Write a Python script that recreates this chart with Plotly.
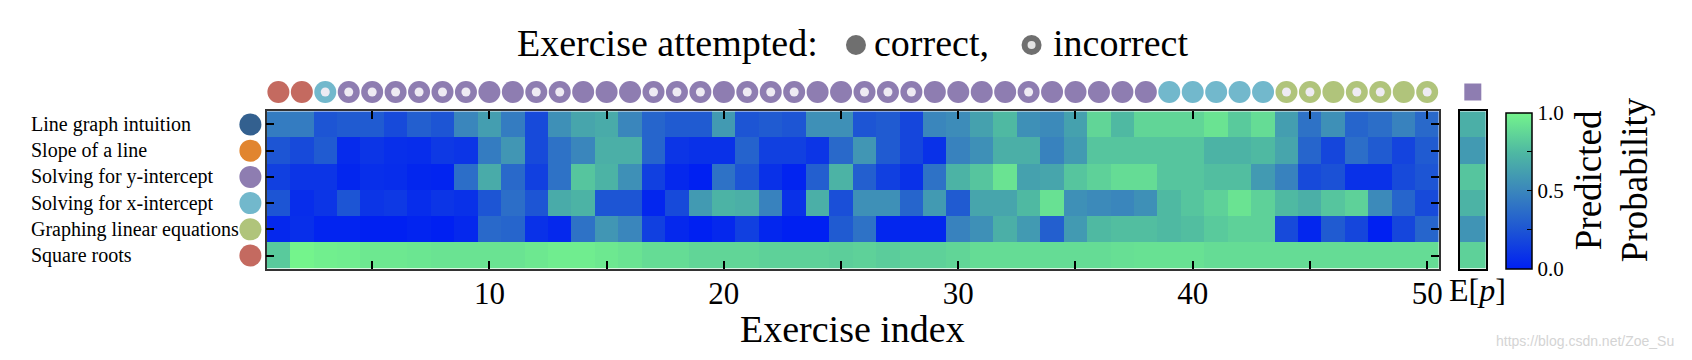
import plotly.graph_objects as go

W, H = 1692, 360
SERIF = "Liberation Serif, Times New Roman, serif"

skills = ["Line graph intuition", "Slope of a line", "Solving for y-intercept",
          "Solving for x-intercept", "Graphing linear equations", "Square roots"]
skill_colors = ["#33608f", "#e1852f", "#8e7db1", "#72b8cc", "#b0c47b", "#c46a60"]

exercise_index = list(range(1, 51))

p_line_graph = [0.45, 0.45, 0.25, 0.28, 0.28, 0.20, 0.30, 0.25, 0.50, 0.62,
                0.45, 0.20, 0.55, 0.65, 0.68, 0.50, 0.33, 0.28, 0.28, 0.60,
                0.25, 0.28, 0.25, 0.55, 0.55, 0.25, 0.28, 0.18, 0.50, 0.53,
                0.63, 0.75, 0.55, 0.52, 0.63, 0.87, 0.75, 0.87, 0.87, 0.87,
                0.93, 0.82, 0.90, 0.62, 0.40, 0.55, 0.33, 0.38, 0.48, 0.35]
p_slope = [0.25, 0.20, 0.28, 0.05, 0.10, 0.07, 0.06, 0.12, 0.10, 0.45,
           0.58, 0.20, 0.40, 0.50, 0.70, 0.70, 0.33, 0.10, 0.08, 0.08,
           0.32, 0.15, 0.15, 0.10, 0.35, 0.58, 0.28, 0.18, 0.08, 0.48,
           0.55, 0.70, 0.70, 0.48, 0.60, 0.80, 0.80, 0.80, 0.80, 0.80,
           0.72, 0.72, 0.75, 0.65, 0.33, 0.18, 0.38, 0.28, 0.17, 0.28]
p_y_intercept = [0.15, 0.10, 0.10, 0.03, 0.07, 0.06, 0.03, 0.02, 0.38, 0.68,
                 0.35, 0.15, 0.40, 0.80, 0.72, 0.55, 0.15, 0.04, 0.00, 0.40,
                 0.25, 0.08, 0.02, 0.30, 0.72, 0.30, 0.15, 0.08, 0.40, 0.72,
                 0.80, 0.93, 0.63, 0.65, 0.80, 0.85, 0.90, 0.90, 0.80, 0.80,
                 0.77, 0.77, 0.60, 0.48, 0.20, 0.23, 0.08, 0.08, 0.20, 0.25]
p_x_intercept = [0.25, 0.06, 0.10, 0.25, 0.10, 0.12, 0.06, 0.10, 0.08, 0.25,
                 0.38, 0.25, 0.68, 0.72, 0.25, 0.25, 0.03, 0.20, 0.60, 0.72,
                 0.70, 0.48, 0.08, 0.70, 0.22, 0.55, 0.55, 0.33, 0.60, 0.28,
                 0.65, 0.65, 0.75, 0.92, 0.55, 0.52, 0.50, 0.55, 0.75, 0.80,
                 0.85, 0.93, 0.85, 0.75, 0.70, 0.80, 0.85, 0.52, 0.33, 0.20]
p_graphing = [0.04, 0.07, 0.02, 0.02, 0.00, 0.00, 0.02, 0.00, 0.04, 0.35,
              0.33, 0.08, 0.04, 0.40, 0.58, 0.50, 0.15, 0.04, 0.00, 0.04,
              0.15, 0.03, 0.00, 0.00, 0.28, 0.40, 0.03, 0.03, 0.03, 0.48,
              0.55, 0.70, 0.60, 0.30, 0.60, 0.75, 0.77, 0.77, 0.75, 0.77,
              0.82, 0.85, 0.85, 0.20, 0.03, 0.28, 0.18, 0.00, 0.18, 0.33]
p_square_roots = [0.82, 1.00, 0.98, 0.97, 0.95, 0.95, 0.94, 0.93, 0.93, 0.93,
                  0.93, 0.95, 0.97, 0.97, 0.95, 0.93, 0.90, 0.90, 0.87, 0.87,
                  0.87, 0.85, 0.85, 0.85, 0.84, 0.85, 0.83, 0.85, 0.85, 0.87,
                  0.90, 0.90, 0.90, 0.90, 0.90, 0.90, 0.91, 0.92, 0.92, 0.92,
                  0.90, 0.90, 0.90, 0.90, 0.90, 0.90, 0.90, 0.90, 0.90, 0.90]
expected_p = [0.70, 0.60, 0.80, 0.72, 0.57, 0.85]

# skill of each attempted exercise (index into skills) and correctness
attempted_skill = [5, 5, 3, 2, 2, 2, 2, 2, 2, 2,
                   2, 2, 2, 2, 2, 2, 2, 2, 2, 2,
                   2, 2, 2, 2, 2, 2, 2, 2, 2, 2,
                   2, 2, 2, 2, 2, 2, 2, 2, 3, 3,
                   3, 3, 3, 4, 4, 4, 4, 4, 4, 4]
attempted_correct = [1, 1, 0, 0, 0, 0, 0, 0, 0, 1,
                     1, 0, 0, 1, 1, 1, 0, 0, 0, 1,
                     0, 0, 0, 1, 1, 0, 0, 0, 1, 1,
                     1, 1, 0, 1, 1, 1, 1, 1, 1, 1,
                     1, 1, 1, 0, 0, 1, 0, 0, 1, 0]
next_skill = 2

x_tick_vals = [5, 10, 15, 20, 25, 30, 35, 40, 45, 50]
x_tick_text = ["", "10", "", "20", "", "30", "", "40", "", "50"]
cbar_tick_vals = [0, 0.25, 0.5, 0.75, 1.0]
cbar_tick_text = ["0.0", "", "0.5", "", "1.0"]

colorscale = [[0.0, "#0020f2"], [0.25, "#1d55d4"], [0.5, "#3a86bc"],
              [0.75, "#4fb9a2"], [1.0, "#74f48c"]]

Z = [p_line_graph, p_slope, p_y_intercept, p_x_intercept, p_graphing, p_square_roots]
rows = list(range(len(skills)))


def px(x):
    return x / W


def py(y):
    return 1 - y / H


hm_left, hm_right, hm_top, hm_bot = 267.3, 1442.3, 111.3, 268.7

fig = go.Figure()

fig.add_trace(go.Heatmap(
    z=Z, x=exercise_index, y=rows, colorscale=colorscale, zmin=0, zmax=1,
    xaxis="x", yaxis="y", hoverinfo="skip",
    colorbar=dict(
        thickness=26, thicknessmode="pixels",
        len=(hm_bot - 113) / H, lenmode="fraction",
        x=px(1510), xanchor="left", y=py(hm_bot), yanchor="bottom",
        xpad=0, ypad=0, outlinecolor="black", outlinewidth=1.5,
        tickvals=cbar_tick_vals, ticktext=cbar_tick_text,
        ticks="inside", ticklen=5, tickcolor="black",
        tickfont=dict(family=SERIF, size=21, color="black"),
    ),
))

fig.add_trace(go.Heatmap(
    z=[[v] for v in expected_p], x=[0], y=rows, colorscale=colorscale,
    zmin=0, zmax=1, showscale=False, xaxis="x2", yaxis="y2", hoverinfo="skip",
))

# attempted exercise dots
fig.add_trace(go.Scatter(
    x=exercise_index, y=[0.5] * len(exercise_index), mode="markers",
    marker=dict(size=22, color=[skill_colors[s] for s in attempted_skill],
                line=dict(width=0)),
    xaxis="x", yaxis="y3", cliponaxis=False, showlegend=False, hoverinfo="skip",
))
wrong_x = [x for x, c in zip(exercise_index, attempted_correct) if not c]
fig.add_trace(go.Scatter(
    x=wrong_x, y=[0.5] * len(wrong_x), mode="markers",
    marker=dict(size=9, color="#eeebf3", line=dict(width=0)),
    xaxis="x", yaxis="y3", cliponaxis=False, showlegend=False, hoverinfo="skip",
))
# next exercise marker above E[p]
fig.add_trace(go.Scatter(
    x=[0], y=[0.5], mode="markers",
    marker=dict(size=17, symbol="square", color=skill_colors[next_skill],
                line=dict(width=0)),
    xaxis="x2", yaxis="y3", cliponaxis=False, showlegend=False, hoverinfo="skip",
))
# skill colour circles beside labels
fig.add_trace(go.Scatter(
    x=[0.5] * len(skills), y=rows, mode="markers",
    marker=dict(size=22, color=skill_colors, line=dict(width=0)),
    xaxis="x3", yaxis="y", cliponaxis=False, showlegend=False, hoverinfo="skip",
))

annotations = []
for r, name in zip(rows, skills):
    annotations.append(dict(
        text=name, x=px(29), xref="paper", xanchor="left", y=r, yref="y",
        yanchor="middle", showarrow=False,
        font=dict(family=SERIF, size=20, color="black")))

title_y = py(43)
annotations += [
    dict(text="Exercise attempted:", x=px(516), xanchor="left", y=title_y,
         xref="paper", yref="paper", yanchor="middle", showarrow=False,
         font=dict(family=SERIF, size=38, color="black")),
    dict(text="correct,", x=px(874), xanchor="left", y=title_y,
         xref="paper", yref="paper", yanchor="middle", showarrow=False,
         font=dict(family=SERIF, size=38, color="black")),
    dict(text="incorrect", x=px(1053), xanchor="left", y=title_y,
         xref="paper", yref="paper", yanchor="middle", showarrow=False,
         font=dict(family=SERIF, size=38, color="black")),
    dict(text="Exercise index", x=(px(hm_left) + px(hm_right)) / 2, y=py(329),
         xref="paper", yref="paper", xanchor="center", yanchor="middle",
         showarrow=False, font=dict(family=SERIF, size=38, color="black")),
    dict(text="E[<i>p</i>]", x=px(1450), y=py(290), xref="paper", yref="paper",
         xanchor="left", yanchor="middle", showarrow=False,
         font=dict(family=SERIF, size=32, color="black")),
    dict(text="Predicted", x=px(1592), y=py(180), xref="paper", yref="paper",
         xanchor="center", yanchor="middle", textangle=-90, showarrow=False,
         font=dict(family=SERIF, size=37, color="black")),
    dict(text="Probability", x=px(1638), y=py(180), xref="paper", yref="paper",
         xanchor="center", yanchor="middle", textangle=-90, showarrow=False,
         font=dict(family=SERIF, size=37, color="black")),
    dict(text="https://blog.csdn.net/Zoe_Su", x=px(1680), y=py(341),
         xref="paper", yref="paper", xanchor="right", yanchor="middle",
         showarrow=False,
         font=dict(family="Liberation Sans, Arial, sans-serif", size=14,
                   color="#d4d4d4")),
]

shapes = [
    dict(type="circle", xref="paper", yref="paper", xsizemode="pixel",
         ysizemode="pixel", xanchor=px(858), yanchor=py(45),
         x0=-10, x1=10, y0=-10, y1=10, fillcolor="#6f6f6f", line=dict(width=0)),
    dict(type="circle", xref="paper", yref="paper", xsizemode="pixel",
         ysizemode="pixel", xanchor=px(1034), yanchor=py(45),
         x0=-10, x1=10, y0=-10, y1=10, fillcolor="#6f6f6f", line=dict(width=0)),
    dict(type="circle", xref="paper", yref="paper", xsizemode="pixel",
         ysizemode="pixel", xanchor=px(1034), yanchor=py(45),
         x0=-4, x1=4, y0=-4, y1=4, fillcolor="#e4e4e4", line=dict(width=0)),
]

fig.update_layout(
    width=W, height=H, margin=dict(l=0, r=0, t=0, b=0),
    paper_bgcolor="white", plot_bgcolor="white", showlegend=False,
    annotations=annotations, shapes=shapes,
    xaxis=dict(domain=[px(hm_left), px(hm_right)], range=[0.5, 50.5],
               anchor="y", tickvals=x_tick_vals, ticktext=x_tick_text,
               ticks="inside", ticklen=8, tickwidth=1.5, tickcolor="black",
               showline=True, linecolor="#333333", linewidth=1.5, mirror="ticks",
               showgrid=False, zeroline=False, ticklabelstandoff=-4,
               tickfont=dict(family=SERIF, size=31, color="black")),
    yaxis=dict(domain=[py(hm_bot), py(hm_top)], range=[5.5, -0.5], anchor="x",
               tickvals=rows, showticklabels=False, ticks="inside", ticklen=8,
               tickwidth=1.5, tickcolor="black", showline=True,
               linecolor="#333333", linewidth=1.5, mirror="ticks",
               showgrid=False, zeroline=False),
    xaxis2=dict(domain=[px(1463.3), px(1489.3)], range=[-0.5, 0.5], anchor="y2",
                showticklabels=False, ticks="", showline=True, linecolor="black",
                linewidth=2, mirror=True, showgrid=False, zeroline=False),
    yaxis2=dict(domain=[py(hm_bot), py(hm_top)], range=[5.5, -0.5], anchor="x2",
                showticklabels=False, ticks="", showline=True, linecolor="black",
                linewidth=2, mirror=True, showgrid=False, zeroline=False),
    yaxis3=dict(domain=[py(108), py(76)], range=[0, 1], anchor="x",
                visible=False),
    xaxis3=dict(domain=[px(240), px(262)], range=[0, 1], anchor="y",
                visible=False),
)

fig.write_html(
    "out.html",
    config={"displayModeBar": False},
    post_script="document.body.style.margin='0px';"
                "document.body.style.overflow='hidden';",
)
